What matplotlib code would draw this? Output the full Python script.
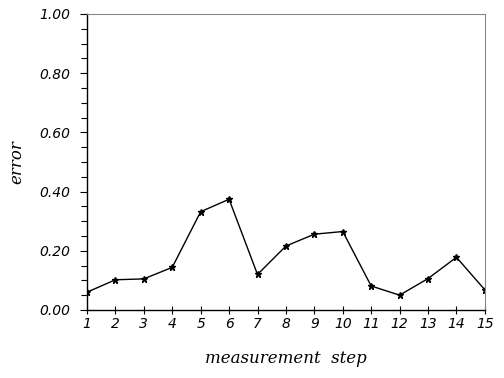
import matplotlib
matplotlib.use("Agg")
import matplotlib.pyplot as plt
from matplotlib.ticker import MultipleLocator, FormatStrFormatter

steps = list(range(1, 16))
error = [0.060, 0.102, 0.105, 0.144, 0.332, 0.374, 0.120, 0.216,
         0.256, 0.265, 0.081, 0.050, 0.106, 0.178, 0.068]

fig = plt.figure(figsize=(5.04, 3.78), dpi=100)
ax = fig.add_axes([0.1726, 0.180, 0.7894, 0.783])

ax.plot(steps, error, color="black", lw=1.0, marker="*", ms=5, mec="black", mfc="black")

ax.set_xlim(1, 15)
ax.set_ylim(0, 1.0)
ax.set_xticks(steps)
ax.yaxis.set_major_locator(MultipleLocator(0.2))
ax.yaxis.set_minor_locator(MultipleLocator(0.05))
ax.yaxis.set_major_formatter(FormatStrFormatter("%.2f"))

for lab in ax.get_xticklabels() + ax.get_yticklabels():
    lab.set_fontfamily("DejaVu Sans")
    lab.set_fontstyle("italic")
    lab.set_fontsize(10)

ax.tick_params(axis="y", which="major", direction="out", length=5, width=0.8, pad=7)
ax.tick_params(axis="y", which="minor", direction="out", length=4, width=0.8)
ax.tick_params(axis="x", direction="inout", length=6, width=0.8, pad=2)

for side in ["left", "bottom"]:
    ax.spines[side].set_linewidth(1.0)
for side in ["top", "right"]:
    ax.spines[side].set_linewidth(0.8)
    ax.spines[side].set_color("#888888")

label_font = dict(family="DejaVu Serif", style="italic", size=12)
ax.set_xlabel("measurement  step", fontdict=label_font, labelpad=14)
ax.set_ylabel("error", fontdict=label_font, labelpad=10)

plt.savefig("out.png", dpi=100)
